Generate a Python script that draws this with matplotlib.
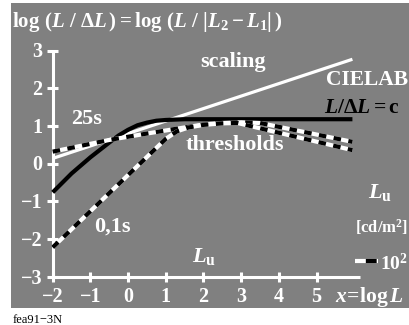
import matplotlib.pyplot as plt
import numpy as np

plt.rcParams['font.family'] = 'Liberation Serif'
plt.rcParams['font.weight'] = 'bold'
plt.rcParams['mathtext.fontset'] = 'custom'
plt.rcParams['mathtext.rm'] = 'Liberation Serif:bold'
plt.rcParams['mathtext.it'] = 'Liberation Serif:italic:bold'
plt.rcParams['mathtext.bf'] = 'Liberation Serif:bold'

# data (x = log L, y = log(L/dL))
scaling_x = [-2, 5.95]
scaling_y = [0.14, 2.77]

cielab_x = [-2, -1.5, -1, -0.5, -0.25, 0, 0.25, 0.5, 0.75, 1, 1.5, 2, 5.95]
cielab_y = [-0.76, -0.26, 0.17, 0.56, 0.75, 0.9, 1.02, 1.09, 1.14, 1.16, 1.18, 1.18, 1.18]

thr25_x = [-2, -0.5, 0.5, 1.3, 2, 2.5, 3, 3.5, 5.95]
thr25_y = [0.32, 0.63, 0.8, 0.93, 1.04, 1.08, 1.1, 1.08, 0.58]

thr01_x = [-2, 0, 1, 1.3, 1.6, 2, 2.5, 2.9, 5.95]
thr01_y = [-2.22, -0.3, 0.66, 0.86, 0.96, 1.03, 1.07, 1.08, 0.36]

xticks = [-2, -1, 0, 1, 2, 3, 4, 5]
yticks = [-3, -2, -1, 0, 1, 2, 3]

gray = '#808080'

fig = plt.figure(figsize=(4.09, 3.25), dpi=100)
ax = fig.add_axes([11 / 409, 17 / 325, 398 / 409, 305 / 325])
ax.set_facecolor(gray)
ax.set_xlim(-3.106, 7.451)
ax.set_ylim(-3.828, 4.263)
for s in ax.spines.values():
    s.set_visible(False)
ax.set_xticks([])
ax.set_yticks([])

# axes with cross ticks
ax.plot([-2, -2], [-3, 3], color='white', lw=2.2, solid_capstyle='butt')
ax.plot([-2, 6.15], [-3, -3], color='white', lw=2.2, solid_capstyle='butt')
for t in yticks:
    ax.plot([-2.14, -2.14 + 0.28], [t, t], color='white', lw=2.2, solid_capstyle='butt')
    ax.text(-2.27, t - 0.18, f'{t}'.replace('-', '\u2212'), color='white',
            fontsize=14.5, ha='right', va='baseline')
for t in xticks:
    ax.plot([t, t], [-3.14, -2.86], color='white', lw=2.2, solid_capstyle='butt')
    ax.text(t, -3.68, f'{t}'.replace('-', '\u2212'), color='white',
            fontsize=14.5, ha='center', va='baseline')

# curves
ax.plot(scaling_x, scaling_y, color='white', lw=2.3, solid_capstyle='butt')
ax.plot(cielab_x, cielab_y, color='black', lw=3, solid_capstyle='butt')
for xs, ys in [(thr25_x, thr25_y), (thr01_x, thr01_y)]:
    ax.plot(xs, ys, color='white', lw=3, solid_capstyle='butt')
    ax.plot(xs, ys, color='black', lw=3, linestyle=(0, (1.8, 1.8)), dash_capstyle='butt')

# legend sample
ax.plot([6.02, 6.63], [-2.57, -2.57], color='white', lw=3, solid_capstyle='butt')
ax.plot([6.02, 6.63], [-2.57, -2.57], color='black', lw=3,
        linestyle=(2.6, (2.6, 2.6)), dash_capstyle='butt')

# labels
ax.text(-3.08, 3.63, r'$\mathrm{log}\ (L\ /\ \Delta L\,) = \mathrm{log}\ (L\ /\ |L_2 - L_1|\,)$',
        color='white', fontsize=15, ha='left', va='baseline')
ax.text(2.78, 2.7, 'scaling', color='white', fontsize=16, ha='center', va='center')
ax.text(5.24, 2.22, 'CIELAB', color='white', fontsize=15.5, ha='left', va='center')
ax.text(5.2, 1.48, r'$L/\Delta L = \mathrm{c}$', color='black', fontsize=15.5,
        ha='left', va='center')
ax.text(-1.1, 1.19, '25s', color='white', fontsize=16, ha='center', va='center')
ax.text(2.84, 0.5, 'thresholds', color='white', fontsize=16, ha='center', va='center')
ax.text(-0.41, -1.67, '0,1s', color='white', fontsize=16, ha='center', va='center')
ax.text(1.7, -2.61, r'$L_\mathrm{u}$', color='white', fontsize=16, ha='left', va='baseline')
ax.text(6.37, -0.91, r'$L_\mathrm{u}$', color='white', fontsize=16, ha='left', va='baseline')
ax.text(6.03, -1.84, r'[cd/m$^{2}$]', color='white', fontsize=12, ha='left', va='baseline')
ax.text(6.69, -2.82, r'$10^{2}$', color='white', fontsize=14, ha='left', va='baseline')
ax.text(5.49, -3.68, r'$x\!=\!\mathrm{log}\,L$', color='white', fontsize=15.5,
        ha='left', va='baseline')

fig.text(13 / 409, 2 / 325, 'fea91\u22123N', color='black', fontsize=9,
         fontweight='normal', ha='left', va='baseline')

fig.savefig('out.png', dpi=100, facecolor='white')
